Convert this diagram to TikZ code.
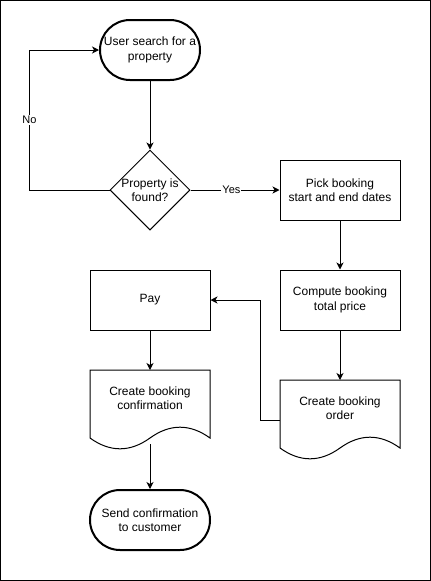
\documentclass[tikz,border=0pt]{standalone}
\usepackage{fontspec}
\setmainfont{Liberation Sans}
\usetikzlibrary{arrows.meta,calc,shapes.geometric}
% wavy outline of a document node (120x80)
\newcommand{\docoutline}[1]{%
  \draw[line width=1pt] (#1.north west) -- (#1.north east) -- ($(#1.north west)+(120,68)$)
    .. controls ($(#1.north west)+(100,53.6)$) and ($(#1.north west)+(80,53.6)$) .. ($(#1.north west)+(60,68)$)
    .. controls ($(#1.north west)+(40,82.4)$) and ($(#1.north west)+(20,82.4)$) .. ($(#1.north west)+(0,68)$) -- cycle;}
\begin{document}
\begin{tikzpicture}
	[x=1pt,y=-1pt,>={Stealth[length=7pt,width=7pt,inset=2pt]},
	 every node/.style={font=\fontsize{12pt}{14.5pt}\selectfont,align=center},
	 term/.style={draw,line width=2pt,rounded corners=30pt,minimum height=60pt},
	 box/.style={draw,line width=1pt,minimum width=120pt,minimum height=60pt},
	 doc/.style={minimum width=120pt,minimum height=80pt,inner sep=0pt,outer sep=0pt},
	 choice/.style={draw,diamond,line width=1pt,minimum width=80pt,minimum height=80pt,inner sep=0pt},
	 lbl/.style={fill=white,inner sep=1pt,font=\fontsize{11pt}{13pt}\selectfont},
	 line/.style={line width=1pt}]
	\useasboundingbox (0,0) rectangle (431,581);
	\draw[line width=1pt] (0.5,0.5) rectangle (430.5,580.5);
	% nodes
	\node[term,minimum width=100pt,name=start]at(150,50){User search for a\\property};
	\node[choice,name=found]at(150,190){};
	\node[name=foundtext]at(150,190){Property is\\found?};
	\node[box,name=pick]at(340,190){Pick booking\\start and end dates};
	\node[box,name=compute]at(340,300){Compute booking\\total price};
	\node[doc,name=order]at(340,420){};
	\node[name=ordertext]at(340,408){Create booking\\order};
	\node[box,name=pay]at(150,300){Pay};
	\node[doc,name=confirm]at(150,410){};
	\node[name=confirmtext]at(150,398){Create booking\\confirmation};
	\node[term,minimum width=120pt,name=send]at(150,520){Send confirmation\\to customer};
	\docoutline{order}
	\docoutline{confirm}
	% connectors
	\draw[->,line](start.south)--(found.north);
	\draw[->,line](found.west)--++(-80,0)|-node[lbl,pos=0.25]{No}(start.west);
	\draw[->,line](found.east)--node[lbl,pos=0.46]{Yes}(pick.west);
	\draw[->,line](pick)--(compute);
	\draw[->,line](compute)--(order);
	\draw[->,line](order.west)--++(-20,0)|-(pay.east);
	\draw[->,line](pay)--(confirm);
	\draw[->,line]($(confirm.south)+(0,-6)$)--(send.north);
\end{tikzpicture}
\end{document}
